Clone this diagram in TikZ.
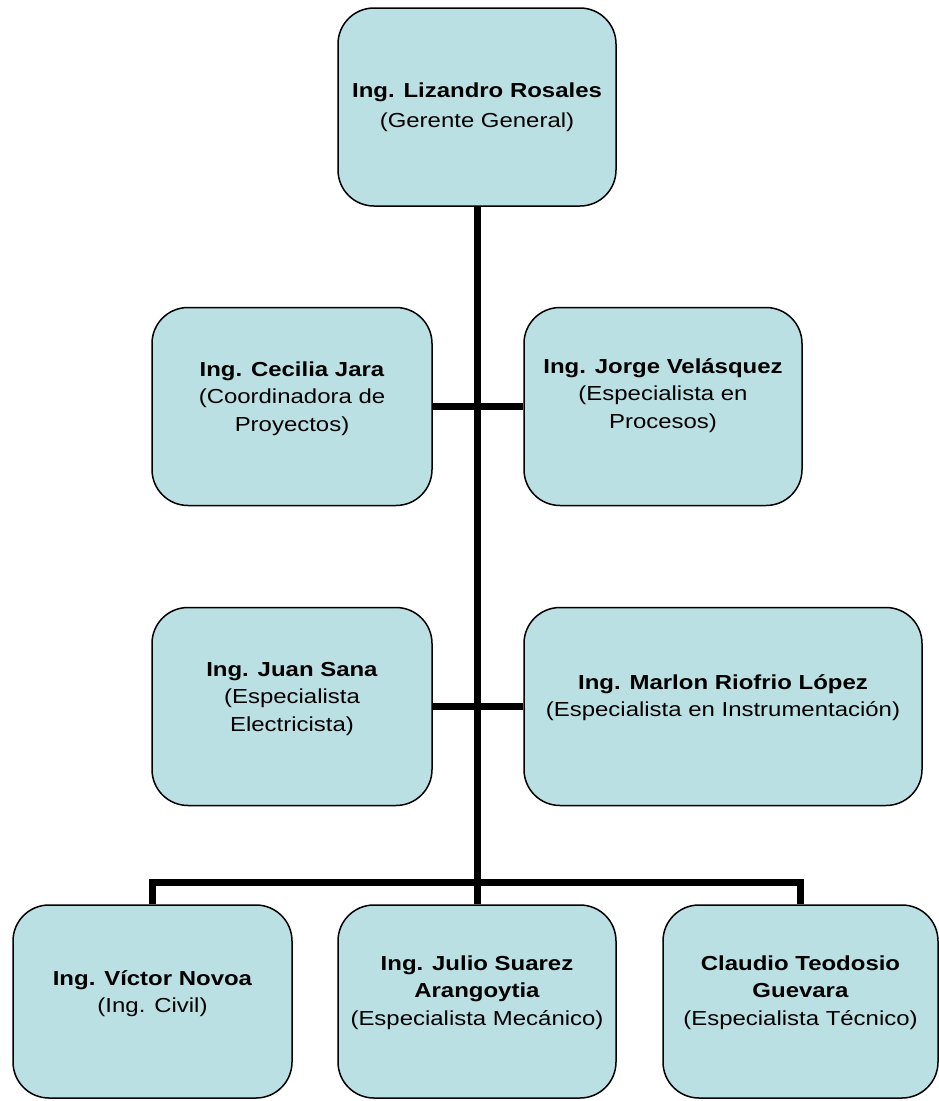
\documentclass[tikz,border=0pt]{standalone}
\usepackage{fontspec}
\setmainfont{Liberation Sans}[FakeStretch=1.18]
% stacked, centred lines whose reference point is the first line's baseline
\newcommand{\stacklines}[1]{\begin{tabular}[t]{@{}c@{}}#1\end{tabular}}
\begin{document}
\begin{tikzpicture}[x=1pt,y=-1pt,
  card/.style={draw=black, line width=1.5pt, fill=cardfill, rounded corners=36pt,
    minimum height=198pt, inner sep=0pt},
  caption/.style={anchor=base, inner sep=0pt, font=\fontsize{20.3}{27.5}\selectfont},
  link/.style={line width=7pt, line join=miter, line cap=butt}]
\definecolor{cardfill}{RGB}{187,224,227}
\useasboundingbox (0,0) rectangle (939,1101);

% boxes
\node[card, minimum width=278pt] (gg) at (477,107) {};
\node[card, minimum width=280pt] (cj) at (292,406.5) {};
\node[card, minimum width=278pt] (jv) at (663,406.5) {};
\node[card, minimum width=280pt] (js) at (292,706.5) {};
\node[card, minimum width=398pt] (mr) at (723,706.5) {};
\node[card, minimum width=279pt, minimum height=193pt] (vn) at (152.5,1001.5) {};
\node[card, minimum width=278pt, minimum height=193pt] (ja) at (477,1001.5) {};
\node[card, minimum width=275pt, minimum height=193pt] (ct) at (800.5,1001.5) {};

% connectors
\coordinate (bus) at (477,882);
\draw[link] (gg.south) -- (bus);
\draw[link] (cj.east) -- (jv.west);
\draw[link] (js.east) -- (mr.west);
\draw[link] (vn.north) |- (bus) -| (ct.north);
\draw[link] (bus) -- (ja.north);

% captions (placed by the baseline of their first line)
\node[caption] (gg-t) at (gg.center |- 0,97.5) {\stacklines{\textbf{Ing. Lizandro Rosales}\\[2pt](Gerente General)}};
\node[caption] (cj-t) at (cj.center |- 0,376) {\stacklines{\textbf{Ing. Cecilia Jara}\\(Coordinadora de\\Proyectos)}};
\node[caption] (jv-t) at (jv.center |- 0,373) {\stacklines{\textbf{Ing. Jorge Velásquez}\\(Especialista en\\Procesos)}};
\node[caption] (js-t) at (js.center |- 0,676) {\stacklines{\textbf{Ing. Juan Sana}\\(Especialista\\Electricista)}};
\node[caption] (mr-t) at (mr.center |- 0,689) {\stacklines{\textbf{Ing. Marlon Riofrio López}\\(Especialista en Instrumentación)}};
\node[caption] (vn-t) at (vn.center |- 0,985) {\stacklines{\textbf{Ing. Víctor Novoa}\\(Ing. Civil)}};
\node[caption] (ja-t) at (ja.center |- 0,970) {\stacklines{\textbf{Ing. Julio Suarez}\\\textbf{Arangoytia}\\(Especialista Mecánico)}};
\node[caption] (ct-t) at (ct.center |- 0,970) {\stacklines{\textbf{Claudio Teodosio}\\\textbf{Guevara}\\(Especialista Técnico)}};
\end{tikzpicture}
\end{document}
